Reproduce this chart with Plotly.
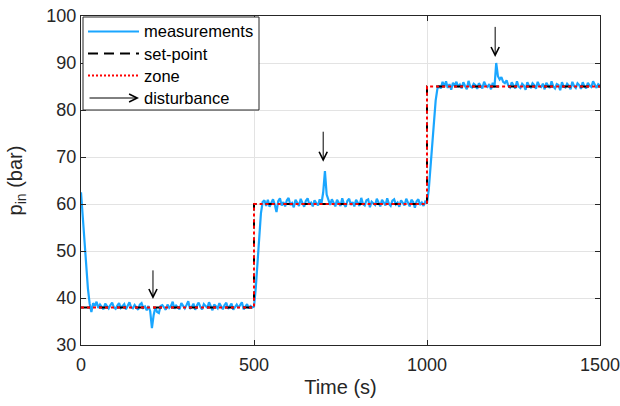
import plotly.graph_objects as go

# ---- data ----
time_s = list(range(0, 1501, 5))
measurements = [
    62.5, 57.0, 51.5, 46.5, 42.0, 38.8, 37.0, 38.9, 38.3, 39.2,
    37.9, 38.6, 38.1, 37.6, 38.8, 38.2, 37.8, 38.5, 39.0, 38.0,
    37.7, 38.4, 38.9, 37.9, 38.2, 38.7, 37.6, 38.3, 39.1, 38.0,
    37.8, 38.5, 38.1, 37.5, 38.6, 38.9, 37.9, 38.2, 37.4, 38.3,
    37.2, 33.6, 36.4, 38.0, 37.0, 36.8, 38.3, 38.5, 38.0, 37.5,
    38.6, 37.9, 38.3, 39.2, 37.7, 38.4, 38.0, 37.6, 38.9, 38.2,
    37.8, 38.5, 39.3, 37.7, 38.1, 38.8, 37.5, 38.4, 39.0, 38.1,
    37.6, 38.7, 38.2, 37.9, 39.1, 38.0, 37.4, 38.6, 38.3, 37.8,
    38.9, 38.1, 37.6, 38.5, 39.0, 37.7, 38.3, 38.8, 37.5, 38.2,
    38.6, 37.9, 38.4, 39.1, 37.6, 38.2, 38.7, 37.8, 38.3, 38.0,
    38.2, 42.0, 48.0, 54.0, 58.0, 60.4, 60.8, 59.6, 60.9, 59.4,
    60.3, 61.0, 59.9, 58.3, 60.6, 61.2, 59.7, 60.4, 59.5, 60.8,
    61.3, 59.8, 60.2, 59.3, 60.9, 60.1, 59.6, 61.1, 60.0, 59.4,
    60.7, 61.2, 59.9, 60.3, 59.5, 60.8, 60.2, 59.7, 61.0, 60.1,
    62.5, 67.0, 62.0, 60.6, 59.8, 61.0, 60.2, 59.5, 60.9, 60.3,
    59.6, 61.2, 60.0, 59.4, 60.7, 61.1, 59.8, 60.4, 59.5, 60.9,
    60.2, 59.6, 61.3, 60.0, 59.7, 60.8, 61.0, 59.3, 60.5, 60.1,
    59.8, 61.1, 60.4, 59.5, 60.9, 60.2, 59.7, 61.2, 60.0, 59.6,
    60.7, 61.0, 59.9, 60.3, 59.4, 60.8, 60.1, 59.7, 61.1, 60.2,
    59.5, 60.9, 60.4, 59.2, 60.6, 61.0, 59.8, 60.3, 59.6, 60.5,
    60.2, 63.0, 68.0, 73.0, 78.0, 82.0, 84.5, 85.2, 84.6, 86.0,
    85.0, 86.1, 84.7, 85.5, 84.3, 85.8, 85.2, 86.0, 84.9, 85.4,
    84.6, 85.9, 85.1, 84.4, 86.2, 85.0, 84.8, 85.6, 85.3, 84.5,
    85.7, 85.1, 84.6, 86.0, 85.2, 84.9, 85.5, 84.4, 85.8, 84.8,
    90.0, 87.2, 86.5, 87.0, 86.0, 85.7, 86.3, 85.2, 84.8, 85.9,
    85.3, 84.6, 86.1, 85.0, 84.7, 85.6, 85.2, 84.3, 85.9, 85.1,
    84.8, 85.7, 85.3, 84.5, 86.0, 85.1, 84.9, 85.6, 84.4, 85.8,
    85.2, 84.7, 86.1, 85.0, 84.6, 85.5, 85.3, 84.2, 85.9, 85.0,
    84.8, 85.6, 85.2, 84.4, 86.0, 85.1, 84.7, 85.7, 85.3, 84.5,
    85.9, 85.0, 84.6, 85.8, 85.2, 84.9, 86.1, 85.3, 84.7, 85.5,
    85.2,
]
setpoint_t = [0, 500, 500, 1000, 1000, 1500]
setpoint_v = [38, 38, 60, 60, 85, 85]
zone_t = [0, 500, 500, 1000, 1000, 1500]
zone_v = [38, 38, 60, 60, 85, 85]
disturbance_t = [208, 700, 1197]
disturbance_tip = [39.8, 69.0, 91.3]
disturbance_tail = [46.2, 75.7, 98.0]

legend_labels = ["measurements", "set-point", "zone", "disturbance"]

x_ticks = [0, 500, 1000, 1500]
y_ticks = [30, 40, 50, 60, 70, 80, 90, 100]

FONT = "Liberation Sans, Arial, sans-serif"
BLUE = "rgb(26,166,255)"
AXC = "#262626"

W, H = 620, 406
ML, MR, MT, MB = 81, 20, 16, 61
PW, PH = W - ML - MR, H - MT - MB


def px_x(p):
    return (p - ML) / PW


def px_y(p):
    return 1 - (p - MT) / PH


fig = go.Figure()
fig.add_trace(go.Scatter(x=time_s, y=measurements, mode="lines", name=legend_labels[0],
                         line=dict(color=BLUE, width=2.2), showlegend=False))
fig.add_trace(go.Scatter(x=setpoint_t, y=setpoint_v, mode="lines", name=legend_labels[1],
                         line=dict(color="black", width=2, dash="dash"), showlegend=False))
fig.add_trace(go.Scatter(x=zone_t, y=zone_v, mode="lines", name=legend_labels[2],
                         line=dict(color="red", width=2, dash="dot"), showlegend=False))

for t, tip, tail in zip(disturbance_t, disturbance_tip, disturbance_tail):
    fig.add_annotation(x=t, y=tip, ax=t, ay=tail, xref="x", yref="y", axref="x", ayref="y",
                       showarrow=True, arrowhead=5, arrowsize=1.6, arrowwidth=1,
                       arrowcolor="black", text="")

# ---- manual legend (MATLAB-style) ----
fig.add_shape(type="rect", xref="paper", yref="paper",
              x0=px_x(83), x1=px_x(259), y0=px_y(110), y1=px_y(17),
              line=dict(color=AXC, width=1), fillcolor="white", layer="above")
rows = [31.5, 53.5, 75.5, 98.0]
sx0, sx1, tx = 88, 139, 142
styles = [dict(color=BLUE, width=2.2), dict(color="black", width=2, dash="10px,6px"),
          dict(color="red", width=2, dash="2px,2px")]
for ry, st in zip(rows[:3], styles):
    fig.add_shape(type="line", xref="paper", yref="paper",
                  x0=px_x(sx0), x1=px_x(sx1), y0=px_y(ry), y1=px_y(ry),
                  line=st, layer="above")
fig.add_annotation(x=px_x(sx1), y=px_y(rows[3]), ax=px_x(sx0), ay=px_y(rows[3]),
                   xref="x domain", yref="y domain", axref="x domain", ayref="y domain",
                   showarrow=True, arrowhead=5, arrowsize=1.6, arrowwidth=1,
                   arrowcolor="black", text="")
for ry, lab in zip(rows, legend_labels):
    fig.add_annotation(x=px_x(tx), y=px_y(ry), xref="paper", yref="paper",
                       text=lab, showarrow=False, xanchor="left", yanchor="middle",
                       font=dict(family=FONT, size=16.5, color="black"))

axis_common = dict(showline=True, linecolor=AXC, linewidth=1, mirror="ticks",
                   ticks="inside", ticklen=5, tickcolor=AXC, automargin=False,
                   ticklabeloverflow="allow",
                   showgrid=True, gridcolor="#e3e3e3", gridwidth=1, zeroline=False,
                   tickfont=dict(family=FONT, size=18, color=AXC))

fig.update_xaxes(range=[0, 1500], tickvals=x_ticks, ticklabelstandoff=3,
                 title=dict(text="Time (s)", font=dict(family=FONT, size=20, color=AXC), standoff=6),
                 **axis_common)
fig.update_yaxes(range=[30, 100], tickvals=y_ticks,
                 title=dict(text="p<sub>in</sub> (bar)", font=dict(family=FONT, size=20, color=AXC), standoff=18),
                 **axis_common)

fig.update_layout(
    width=W, height=H,
    margin=dict(l=ML, r=MR, t=MT, b=MB),
    plot_bgcolor="white", paper_bgcolor="white",
    font=dict(family=FONT, color="black"),
    showlegend=False,
)

fig.write_html("out.html", config={"displayModeBar": False},
               post_script="document.body.style.margin='0';document.body.style.overflow='hidden';")
